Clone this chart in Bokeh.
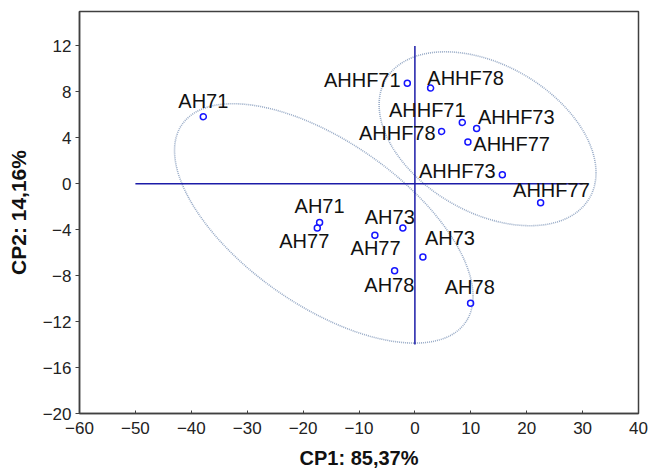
import numpy as np
from bokeh.plotting import figure
from bokeh.models import ColumnDataSource, FixedTicker, Range1d
from bokeh.embed import file_html
from bokeh.resources import INLINE
from bokeh.core.properties import value

# ---- data ----
labels = ["AH71", "AHHF71", "AHHF78", "AHHF71", "AHHF73", "AHHF78", "AHHF77", "AHHF73",
          "AHHF77", "AH71", "AH77", "AH73", "AH77", "AH73", "AH78", "AH78"]
cp1 = [-37.85, -1.36, 2.81, 8.48, 11.04, 4.78, 9.48, 15.64,
       22.49, -17.05, -17.46, -2.15, -7.16, 1.43, -3.63, 9.96]
cp2 = [5.84, 8.76, 8.33, 5.34, 4.82, 4.56, 3.64, 0.78,
       -1.65, -3.38, -3.85, -3.85, -4.48, -6.37, -7.58, -10.41]

x_ticks = [-60, -50, -40, -30, -20, -10, 0, 10, 20, 30, 40]
y_ticks = [-20, -16, -12, -8, -4, 0, 4, 8, 12]

# reference cross (axes through the origin)
hline_x = [-50, 30]
vline_y = [-14, 12]

# group ellipses: centre x, centre y, x radius, y radius, phase (deg)
ell_cx = [-16.3, 13.0]
ell_cy = [-3.45, 3.92]
ell_rx = [26.7, 19.4]
ell_ry = [10.42, 7.57]
ell_phase = [127.5, 113.0]

# label placement (alignment, pixel offsets)
lab_align = ["center", "right", "left", "right", "left", "right", "left", "right",
             "center", "center", "center", "center", "center", "left", "center", "center"]
lab_dx = [0, -6.7, -3.3, 3.3, 1.3, -6, 5.4, -6.7, 10.8, 0, -13, -13.1, 0.7, 2, -5.3, -0.8]
lab_dy = [-15.5, -3.3, -10.6, -12.2, -11.9, 1.8, 1.7, -3.5, -13.1, -16.8, 13, -11.5, 13, -19.2, 14.6, -16.6]

p = figure(width=649, height=473, x_range=Range1d(-60, 40), y_range=Range1d(-20, 15),
           output_backend="svg", toolbar_location=None,
           min_border_left=79, min_border_right=11, min_border_top=11, min_border_bottom=60)
p.background_fill_color = "white"
p.border_fill_color = "white"
p.xgrid.visible = False
p.ygrid.visible = False
p.outline_line_color = "#404040"
p.outline_line_width = 1.5

# ellipses
t = np.linspace(0, 2 * np.pi, 361)
for cx, cy, rx, ry, ph in zip(ell_cx, ell_cy, ell_rx, ell_ry, ell_phase):
    ex = cx + rx * np.cos(t)
    ey = cy + ry * np.cos(t - np.deg2rad(ph))
    p.line(ex, ey, line_color="#97aac6", line_width=1.6, line_dash="1 1")

# cross lines
p.line(hline_x, [0, 0], line_color="#1c1ca8", line_width=1.5)
p.line([0, 0], vline_y, line_color="#1c1ca8", line_width=1.5)

src = ColumnDataSource(dict(x=cp1, y=cp2, label=labels, align=lab_align, dx=lab_dx, dy=lab_dy))
p.scatter("x", "y", source=src, marker="circle", size=6, fill_color=None,
          line_color="#1515ff", line_width=1.5)
p.text("x", "y", text="label", source=src, text_align="align", text_baseline="middle",
       x_offset="dx", y_offset="dy", text_font=value("Liberation Sans"),
       text_font_size="20px", text_color="#111111")

for ax in (p.xaxis[0], p.yaxis[0]):
    ax.axis_line_color = "#404040"
    ax.axis_line_width = 1.5
    ax.major_tick_line_color = "#404040"
    ax.major_tick_line_width = 1
    ax.minor_tick_line_color = None
    ax.major_label_text_font = "Liberation Sans"
    ax.major_label_text_font_size = "17px"
    ax.major_label_text_color = "#222222"
    ax.axis_label_text_font = "Liberation Sans"
    ax.axis_label_text_font_style = "bold"
    ax.axis_label_text_color = "#111111"

p.xaxis.ticker = FixedTicker(ticks=x_ticks)
p.yaxis.ticker = FixedTicker(ticks=y_ticks)
p.xaxis.major_tick_in = 3
p.xaxis.major_tick_out = 0
p.xaxis.major_label_standoff = 8
p.xaxis.axis_label = "CP1: 85,37%"
p.xaxis.axis_label_text_font_size = "20px"
p.xaxis.axis_label_standoff = 10

p.yaxis.major_tick_in = 0
p.yaxis.major_tick_out = 4
p.yaxis.major_label_standoff = 4
p.yaxis.axis_label = "CP2: 14,16%"
p.yaxis.axis_label_text_font_size = "21px"
p.yaxis.axis_label_standoff = 10

open("out.html", "w").write(file_html(p, INLINE))
